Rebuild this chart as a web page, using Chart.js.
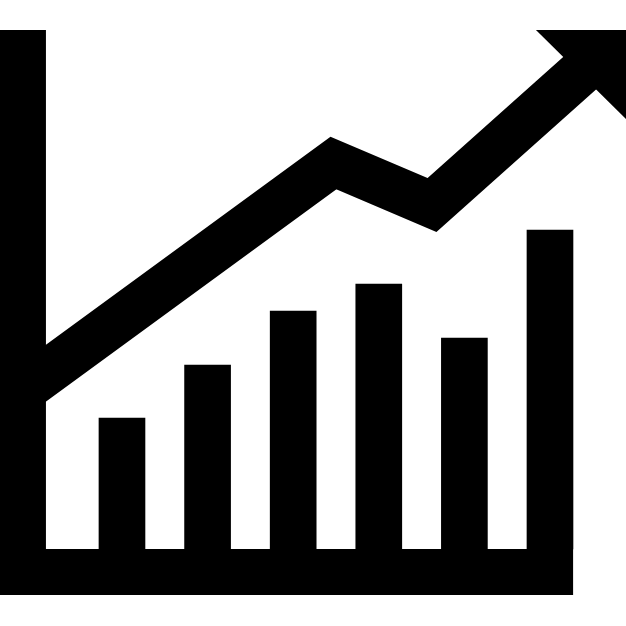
<!DOCTYPE html>
<html>
<head>
<meta charset="utf-8">
<script src="https://cdn.jsdelivr.net/npm/chart.js@4/dist/chart.umd.min.js"></script>
<style>
  html, body { margin: 0; padding: 0; background: #fff; }
  canvas { display: block; }
</style>
</head>
<body>
<canvas id="chart" width="626" height="626"></canvas>
<script>
// bars
const barX = [1, 2, 3, 4, 5, 6];
const barValues = [131, 184, 238, 265, 211, 319];

// trend line running above the bars
const trendX = [-0.157, 3.471, 4.622, 6.467];
const trendY = [159, 386, 344, 485];

// arrow head at the end of the trend
const arrowX = [5.836, 6.888, 6.888, 5.836];
const arrowY = [519, 519, 430, 519];

// the L shaped axis
const axisX = [-0.157, -0.157, 6.27];
const axisY = [519, -23, -23];

const toPoints = (xs, ys) => xs.map((x, i) => ({ x: x, y: ys[i] }));

new Chart(document.getElementById('chart').getContext('2d'), {
  data: {
    datasets: [
      {
        type: 'bar',
        data: toPoints(barX, barValues),
        backgroundColor: '#000',
        barThickness: 46
      },
      {
        type: 'line',
        data: toPoints(axisX, axisY),
        borderColor: '#000',
        borderWidth: 46,
        borderJoinStyle: 'miter',
        pointRadius: 0,
        tension: 0
      },
      {
        type: 'line',
        data: toPoints(trendX, trendY),
        borderColor: '#000',
        borderWidth: 46,
        borderJoinStyle: 'miter',
        pointRadius: 0,
        tension: 0
      },
      {
        type: 'line',
        data: toPoints(arrowX, arrowY),
        borderWidth: 0,
        backgroundColor: '#000',
        fill: 'shape',
        pointRadius: 0,
        tension: 0
      }
    ]
  },
  options: {
    responsive: false,
    animation: false,
    layout: { padding: 0 },
    plugins: {
      legend: { display: false },
      tooltip: { enabled: false }
    },
    scales: {
      x: { type: 'linear', display: false, offset: false, min: -0.425, max: 6.888 },
      y: { type: 'linear', display: false, min: -77, max: 549 }
    }
  }
});
</script>
</body>
</html>
